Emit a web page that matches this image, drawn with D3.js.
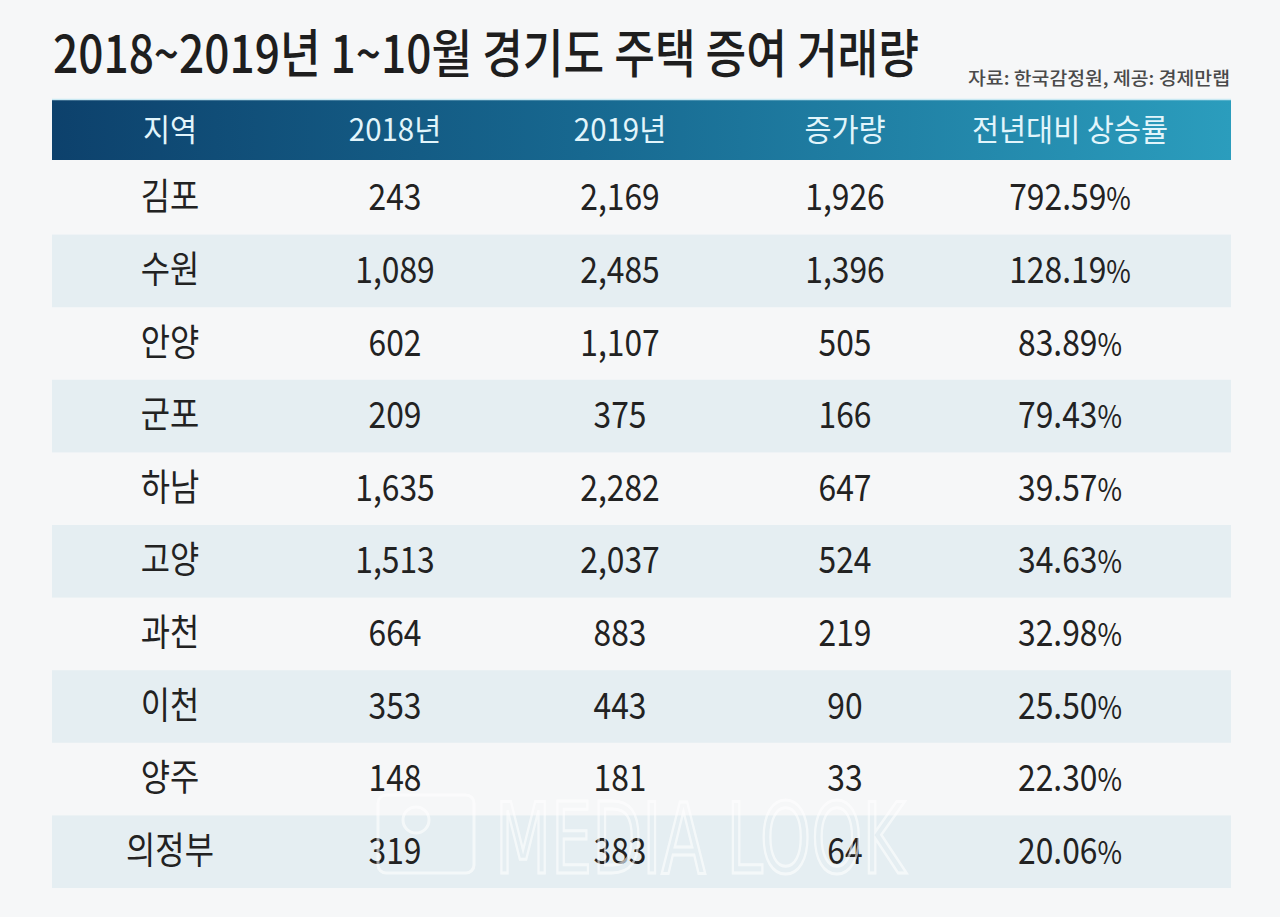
<!DOCTYPE html>
<html>
<head>
<meta charset="utf-8">
<script src="https://cdn.jsdelivr.net/npm/d3@7"></script>
<style>
  html, body { margin: 0; padding: 0; background: #f6f7f8; }
  svg { display: block; }
</style>
</head>
<body>
<div id="chart"></div>
<script>
// Data
const titleText = "2018~2019년 1~10월 경기도 주택 증여 거래량";
const sourceText = "자료: 한국감정원, 제공: 경제만랩";
const columns = ["지역", "2018년", "2019년", "증가량", "전년대비 상승률"];
const regions = ["김포", "수원", "안양", "군포", "하남", "고양", "과천", "이천", "양주", "의정부"];
const y2018 = [243, 1089, 602, 209, 1635, 1513, 664, 353, 148, 319];
const y2019 = [2169, 2485, 1107, 375, 2282, 2037, 883, 443, 181, 383];
const increase = [1926, 1396, 505, 166, 647, 524, 219, 90, 33, 64];
const rate = [792.59, 128.19, 83.89, 79.43, 39.57, 34.63, 32.98, 25.50, 22.30, 20.06];

const W = 1280, H = 917;
const left = 52, right = 1231;
const headTop = 99, headBottom = 160;
const bodyTop = 162, bodyBottom = 888;
const squeeze = 0.86;
const font = "'Noto Sans CJK KR', 'Noto Sans', sans-serif";

const svg = d3.select("#chart").append("svg")
  .attr("width", W)
  .attr("height", H)
  .style("font-family", font);

svg.append("rect").attr("width", W).attr("height", H).attr("fill", "#f6f7f8");

// Scales
const x = d3.scalePoint().domain(columns).range([170, 1070]);
const y = d3.scaleBand().domain(regions).range([bodyTop, bodyBottom]);

// Header gradient
const defs = svg.append("defs");
const grad = defs.append("linearGradient").attr("id", "headGrad")
  .attr("x1", "0%").attr("x2", "100%").attr("y1", "0%").attr("y2", "0%");
grad.append("stop").attr("offset", "0%").attr("stop-color", "#0d416c");
grad.append("stop").attr("offset", "45%").attr("stop-color", "#176890");
grad.append("stop").attr("offset", "100%").attr("stop-color", "#2b9dbd");

// Title
svg.append("text")
  .attr("x", 53)
  .attr("y", 73)
  .attr("font-size", 52)
  .attr("font-weight", 500)
  .attr("fill", "#1e1e1e")
  .attr("textLength", 866)
  .attr("lengthAdjust", "spacingAndGlyphs")
  .text(titleText);

svg.append("text")
  .attr("x", 1230)
  .attr("y", 85)
  .attr("text-anchor", "end")
  .attr("font-size", 18)
  .attr("font-weight", 500)
  .attr("fill", "#4a4a4a")
  .attr("textLength", 262)
  .attr("lengthAdjust", "spacingAndGlyphs")
  .text(sourceText);

// Header band
svg.append("rect")
  .attr("x", left).attr("y", headTop)
  .attr("width", right - left).attr("height", headBottom - headTop)
  .attr("fill", "url(#headGrad)");
svg.append("line")
  .attr("x1", left).attr("x2", right)
  .attr("y1", headTop + 0.5).attr("y2", headTop + 0.5)
  .attr("stroke", "#c9e9f3").attr("stroke-width", 1.5);

svg.append("g").selectAll("text")
  .data(columns)
  .join("text")
  .attr("transform", d => `translate(${x(d)},${(headTop + headBottom) / 2 + 11}) scale(0.95,1)`)
  .attr("text-anchor", "middle")
  .attr("font-size", 31)
  .attr("fill", "#e2f5fb")
  .text(d => d);

// Body rows
const fmt = d3.format(",");
const rows = regions.map((r, i) => ({
  region: r,
  cells: [r, fmt(y2018[i]), fmt(y2019[i]), fmt(increase[i]), rate[i].toFixed(2)],
  i
}));

const rowG = svg.append("g").selectAll("g")
  .data(rows)
  .join("g")
  .attr("transform", d => `translate(0,${y(d.region)})`);

rowG.filter(d => d.i % 2 === 1).append("rect")
  .attr("x", left)
  .attr("width", right - left)
  .attr("height", y.bandwidth())
  .attr("fill", "#e5eef2");

rowG.each(function(d) {
  const g = d3.select(this);
  d.cells.forEach((c, ci) => {
    const t = g.append("text")
      .attr("transform", `translate(${x(columns[ci])},${y.bandwidth() / 2 + 12}) scale(${squeeze},1)`)
      .attr("text-anchor", "middle")
      .attr("font-size", 37)
      .attr("fill", "#222")
      .text(c);
    if (ci === 4) {
      t.append("tspan").attr("font-size", 31).text("%");
    }
  });
});

// Watermark
const wm = svg.append("g").attr("opacity", 0.6);
wm.append("rect")
  .attr("x", 378).attr("y", 795).attr("width", 96).attr("height", 78).attr("rx", 8)
  .attr("fill", "none").attr("stroke", "#ffffff").attr("stroke-width", 3);
wm.append("circle")
  .attr("cx", 416).attr("cy", 820).attr("r", 13)
  .attr("fill", "none").attr("stroke", "#ffffff").attr("stroke-width", 3);
wm.append("text")
  .attr("x", 495).attr("y", 873)
  .attr("font-size", 98)
  .attr("font-family", "'DejaVu Sans Condensed', 'DejaVu Sans', sans-serif")
  .attr("fill", "none")
  .attr("stroke", "#ffffff")
  .attr("stroke-width", 3)
  .attr("textLength", 410)
  .attr("lengthAdjust", "spacingAndGlyphs")
  .text("MEDIA LOOK");
</script>
</body>
</html>
